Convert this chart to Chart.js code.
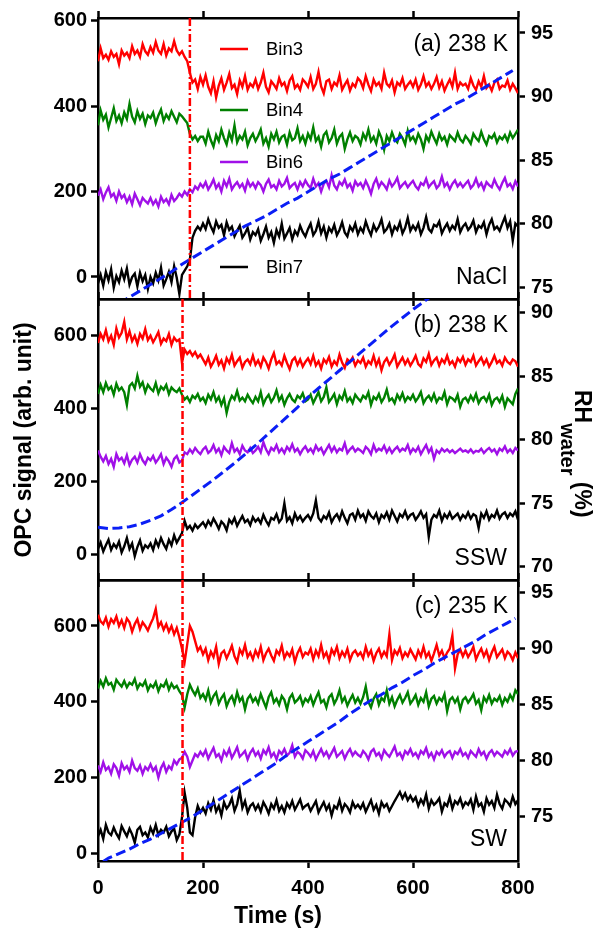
<!DOCTYPE html>
<html>
<head>
<meta charset="utf-8">
<script src="https://cdn.jsdelivr.net/npm/chart.js@4.4.1/dist/chart.umd.min.js"></script>
<style>
  html, body { margin: 0; padding: 0; background: #fff; }
  #wrap { position: relative; width: 594px; height: 928px; }
  #wrap canvas { position: absolute; left: 0; top: 0; }
</style>
</head>
<body>
<div id="wrap">
  <canvas id="panelA" width="594" height="928"></canvas>
  <canvas id="panelB" width="594" height="928"></canvas>
  <canvas id="panelC" width="594" height="928"></canvas>
</div>
<script>
// OPC traces are sampled every 5 s, 0 - 800 s
const TIME = Array.from({ length: 161 }, (_, i) => i * 5);
const BINS = ['Bin3', 'Bin4', 'Bin6', 'Bin7'];

// tick labels
const TIME_TICKS = [0, 200, 400, 600, 800];
const OPC_TICKS = [0, 200, 400, 600];
const RH_TICKS_A = [75, 80, 85, 90, 95];
const RH_TICKS_B = [70, 75, 80, 85, 90];
const RH_TICKS_C = [75, 80, 85, 90, 95];

// (a) NaCl, 238 K
const BIN3_A = [
  505, 535, 512, 520, 508, 528, 515, 522, 498, 530, 518, 525, 512, 540, 522, 530, 515, 545, 528, 520,
  538, 525, 550, 530, 522, 545, 518, 535, 528, 552, 530, 520, 528, 515, 505, 478, 455, 462, 440, 468,
  450, 472, 445, 430, 458, 420, 448, 465, 438, 455, 475, 442, 450, 428, 460, 445, 470, 438, 452, 445,
  462, 440, 455, 478, 445, 432, 458, 450, 440, 465, 448, 455, 435, 460, 470, 442, 450, 438, 462, 455,
  445, 468, 440, 452, 480, 446, 430, 458, 462, 440, 455, 448, 472, 438, 450, 460, 436, 452, 445, 465,
  458, 442, 470, 450, 435, 462, 448, 455, 440, 478, 452, 445, 460, 432, 455, 448, 465, 440, 450, 458,
  445, 462, 438, 450, 470, 446, 455, 440, 452, 468, 443, 458, 436, 450, 462, 445, 478, 440, 455, 448,
  452, 440, 465, 448, 438, 458, 445, 470, 442, 450, 436, 455, 462, 440, 448, 445, 460, 438, 452, 442,
  430
];
const BIN4_A = [
  355, 390, 368, 380, 350, 372, 395, 365, 378, 360, 385, 370, 405, 375, 362, 388, 370, 382, 358, 378,
  372, 385, 360, 378, 392, 365, 380, 370, 388, 375, 362, 382, 376, 368, 360, 335, 322, 330, 318, 328,
  328, 312, 340, 320, 305, 332, 318, 345, 325, 310, 338, 320, 355, 315, 330, 322, 340, 308, 325, 335,
  318, 330, 345, 312, 325, 305, 335, 322, 340, 315, 328, 332, 310, 338, 320, 325, 348, 318, 330, 312,
  335, 322, 350, 318, 328, 305, 332, 340, 315, 325, 345, 312, 328, 335, 300, 322, 338, 318, 330, 325,
  310, 335, 322, 345, 318, 328, 312, 340, 325, 298, 330, 318, 338, 322, 315, 335, 325, 310, 342, 320,
  328, 315, 335, 322, 300, 330, 318, 340, 325, 312, 335, 320, 328, 310, 332, 325, 318, 338, 322, 315,
  330, 322, 312, 335, 325, 318, 340, 322, 310, 330, 325, 335, 315, 328, 322, 332, 318, 338, 325, 335,
  345
];
const BIN6_A = [
  190, 205, 182, 198, 210, 188, 195, 178, 200, 185, 192, 175, 188, 170, 195, 182, 168, 185, 178, 172,
  185, 170, 180, 165, 188, 175, 182, 170, 192, 178, 185, 195, 188, 200, 192, 205, 198, 212, 205, 218,
  210, 222, 205, 215, 228, 208, 218, 200, 225, 212, 230, 205, 215, 222, 210, 218, 202, 225, 212, 220,
  208, 222, 215, 200, 218, 228, 210, 215, 205, 225, 212, 218, 232, 208, 215, 220, 205, 222, 212, 226,
  215, 208, 230, 212, 220, 200, 218, 225, 210, 238, 214, 205, 222, 215, 228, 210, 218, 202, 224, 214,
  220, 208, 225, 212, 195, 218, 230, 210, 222, 215, 205, 226, 212, 220, 232, 208, 216, 222, 210, 218,
  225, 212, 205, 220, 215, 230, 210, 218, 224, 208, 215, 235, 212, 220, 205, 218, 226, 212, 220, 210,
  218, 225, 208, 215, 230, 212, 220, 205, 222, 215, 210, 228, 214, 205, 220, 232, 212, 218, 206, 224,
  212
];
const BIN7_A = [
  -15, 5, -20, 12, -8, 18, -25, 2, -12, 15, -5, 20, -18, 0, 8, -22, 10, -10, 5, -28,
  0, -15, 10, -8, 22, -20, -5, 12, -12, 25, -2, -40, 5, 15, 25, 40, 92, 108, 118, 110,
  125, 112, 135, 118, 105, 130, 115, 122, 98, 128, 110, 118, 95, 108, 120, 92, 102, 115, 88, 105,
  98, 112, 85, 100, 118, 92, 105, 80, 110, 95, 125, 90, 102, 115, 88, 108, 98, 120, 105, 95,
  112, 125, 98, 108, 130, 102, 118, 92, 115, 105, 122, 98, 110, 128, 104, 95, 118, 108, 125, 100,
  115, 105, 130, 112, 98, 122, 108, 118, 135, 105, 112, 125, 100, 118, 110, 128, 102, 115, 138, 108,
  120, 110, 125, 100, 115, 140, 112, 105, 122, 118, 130, 102, 115, 125, 108, 120, 112, 135, 105, 118,
  125, 110, 118, 132, 105, 120, 115, 128, 100, 122, 135, 112, 118, 108, 125, 140, 115, 130, 85, 125,
  118
];
const RH_T_A = [40, 60, 80, 100, 120, 140, 160, 180, 200, 220, 240, 260, 280, 300, 320, 340, 360, 380, 400, 420,
  440, 460, 480, 500, 520, 540, 560, 580, 600, 620, 640, 660, 680, 700, 720, 740, 760, 780, 790];
const RH_A = [73.7, 74.2, 74.7, 75.2, 75.7, 76.2, 76.8, 77.3, 77.8, 78.3, 78.8, 79.3, 79.8, 80.2, 80.6, 81.1, 81.6, 82.0, 82.5, 83.0,
  83.5, 83.9, 84.4, 84.9, 85.4, 85.9, 86.4, 86.9, 87.4, 87.9, 88.4, 88.9, 89.4, 89.8, 90.3, 90.8, 91.3, 91.8, 92.05];

// (b) SSW, 238 K
const BIN3_B = [
  580, 605, 590, 615, 585, 600, 575, 620, 595, 608, 638, 590, 612, 585, 600, 578, 605, 592, 618, 588,
  600, 582, 595, 610, 578, 592, 585, 605, 575, 595, 585, 590, 525, 562, 550, 558, 545, 555, 540, 548,
  535, 522, 540, 515, 528, 545, 520, 532, 510, 538, 525, 548, 518, 530, 540, 512, 528, 535, 522, 545,
  520, 532, 515, 540, 528, 510, 535, 552, 522, 530, 518, 545, 525, 508, 532, 540, 520, 535, 515, 528,
  538, 522, 545, 518, 530, 510, 535, 525, 542, 515, 530, 520, 548, 526, 512, 535, 528, 540, 518, 532,
  525, 540, 515, 530, 522, 545, 518, 535, 505, 528, 538, 520, 532, 548, 515, 528, 540, 522, 535, 518,
  530, 545, 522, 515, 538, 528, 550, 520, 532, 540, 518, 535, 525, 545, 522, 530, 515, 538, 528, 542,
  520, 535, 528, 545, 518, 530, 540, 522, 535, 515, 528, 545, 525, 532, 518, 540, 528, 522, 535, 530,
  515
];
const BIN4_B = [
  440, 465, 445, 470, 452, 460, 438, 468, 450, 458, 445, 410, 462, 470, 455, 490, 460, 472, 445, 465,
  455, 448, 470, 442, 460, 452, 465, 440, 458, 450, 445, 455, 438, 425, 432, 418, 435, 428, 440, 422,
  430, 415, 438, 425, 445, 420, 432, 410, 428, 388, 418, 435, 425, 448, 422, 430, 420, 438, 425, 415,
  432, 420, 445, 412, 428, 438, 418, 430, 450, 422, 435, 410, 428, 440, 425, 418, 435, 428, 442, 420,
  425, 438, 415, 430, 445, 420, 432, 458, 418, 428, 440, 412, 435, 425, 448, 420, 430, 415, 438, 428,
  420, 435, 428, 445, 410, 432, 425, 440, 418, 430, 452, 422, 428, 415, 438, 425, 442, 420, 432, 425,
  438, 420, 430, 445, 415, 428, 435, 422, 440, 418, 430, 425, 445, 412, 432, 428, 420, 438, 405, 425,
  430, 418, 435, 422, 440, 415, 428, 432, 420, 438, 410, 425, 430, 418, 435, 405, 428, 420, 412, 440,
  455
];
const BIN6_B = [
  285, 268, 255, 270, 248, 262, 240, 275, 258, 265, 250, 272, 245, 260, 268, 252, 275, 258, 248, 265,
  258, 270, 252, 262, 275, 248, 265, 255, 240, 262, 270, 252, 258, 280, 275, 288, 278, 292, 282, 275,
  288, 295, 278, 285, 300, 280, 290, 272, 295, 285, 278, 305, 282, 290, 275, 298, 285, 280, 292, 278,
  285, 295, 280, 308, 288, 275, 292, 285, 300, 280, 290, 278, 295, 285, 302, 282, 290, 275, 288, 296,
  282, 290, 278, 298, 285, 292, 275, 288, 300, 282, 295, 280, 290, 285, 305, 278, 288, 295, 282, 290,
  285, 278, 295, 288, 275, 300, 282, 290, 285, 298, 280, 292, 278, 288, 295, 282, 290, 285, 300, 278,
  290, 282, 295, 275, 288, 300, 280, 292, 262, 285, 278, 290, 282, 288, 280, 286, 278, 284, 290, 282,
  285, 280, 288, 278, 284, 282, 290, 278, 286, 292, 282, 288, 275, 290, 284, 296, 280, 288, 278, 292,
  285
];
const BIN7_B = [
  15, 32, 8, 25, 40, 12, 28, 18, 35, 5, 22, 45, 15, 30, -5, 20, 38, 10, 25, 18,
  30, 12, 38, 22, 45, 28, 15, 40, 25, 52, 32, 45, 58, 92, 70, 78, 65, 82, 72, 80,
  88, 75, 92, 80, 98, 85, 70, 90, 82, 66, 95, 85, 100, 78, 92, 105, 88, 95, 80, 102,
  90, 98, 85, 108, 92, 80, 100, 95, 110, 88, 98, 140, 92, 102, 85, 112, 95, 105, 90, 100,
  108, 95, 112, 148, 100, 90, 105, 98, 115, 88, 102, 110, 95, 118, 100, 85, 108, 112, 95, 120,
  102, 110, 92, 118, 105, 98, 112, 88, 108, 100, 115, 95, 120, 105, 90, 110, 102, 118, 98, 108,
  112, 95, 105, 118, 100, 110, 48, 95, 108, 102, 120, 92, 110, 100, 115, 98, 105, 112, 95, 108,
  100, 115, 98, 110, 105, 72, 112, 100, 118, 95, 108, 102, 120, 98, 110, 115, 100, 112, 105, 118,
  95
];
const RH_T_B = [0, 20, 40, 60, 80, 100, 120, 140, 160, 180, 200, 220, 240, 260, 280, 300, 320,
  340, 360, 380, 400, 420, 440, 460, 480, 500, 520, 540, 560, 580, 600, 620, 640];
const RH_B = [73.1, 73.0, 73.05, 73.15, 73.35, 73.65, 74.0, 74.5, 75.05, 75.65, 76.25, 76.85, 77.5, 78.15, 78.85, 79.55, 80.3,
  81.05, 81.8, 82.55, 83.35, 84.05, 84.75, 85.45, 86.15, 86.85, 87.55, 88.25, 88.95, 89.6, 90.25, 90.85, 91.45];

// (c) SW, 235 K
const BIN3_C = [
  630, 612, 605, 622, 598, 618, 608, 625, 600, 615, 595, 620, 610, 585, 605, 618, 592, 610, 600, 588,
  605, 620, 645, 598, 610, 590, 605, 585, 600, 578, 595, 570, 540, 505, 552, 600, 585, 560, 535, 545,
  525, 540, 510, 532, 518, 545, 500, 528, 535, 515, 530, 548, 520, 505, 538, 525, 550, 518, 530, 512,
  535, 520, 545, 510, 528, 540, 522, 508, 535, 525, 548, 515, 530, 520, 538, 505, 528, 542, 518, 530,
  525, 540, 512, 535, 520, 550, 518, 530, 508, 538, 525, 545, 515, 532, 520, 540, 510, 528, 535, 522,
  530, 515, 545, 522, 535, 508, 528, 540, 518, 532, 520, 578, 510, 535, 525, 542, 515, 530, 520, 538,
  525, 512, 535, 520, 545, 518, 530, 508, 528, 550, 522, 535, 515, 530, 540, 575, 488, 525, 538, 520,
  535, 518, 530, 545, 512, 528, 540, 520, 535, 510, 530, 545, 518, 528, 538, 515, 532, 525, 510, 530,
  515
];
const BIN4_C = [
  435, 455, 440, 462, 445, 450, 432, 458, 448, 440, 455, 438, 450, 445, 460, 435, 448, 442, 455, 430,
  445, 438, 452, 428, 445, 440, 455, 432, 448, 436, 442, 428, 418, 385, 420, 445, 430, 418, 435, 410,
  420, 405, 430, 398, 415, 425, 395, 410, 420, 388, 405, 415, 395, 425, 402, 412, 380, 408, 418, 400,
  410, 395, 420, 402, 385, 412, 425, 398, 408, 392, 415, 405, 380, 410, 420, 398, 405, 415, 392, 408,
  400, 415, 392, 410, 425, 398, 405, 385, 412, 420, 395, 408, 430, 400, 412, 390, 405, 418, 398, 410,
  395, 412, 440, 400, 385, 408, 420, 392, 410, 402, 430, 395, 412, 388, 405, 418, 398, 410, 425, 395,
  405, 418, 392, 410, 400, 425, 388, 408, 415, 395, 410, 402, 420, 375, 405, 412, 398, 410, 380, 405,
  412, 398, 408, 420, 395, 405, 378, 412, 400, 418, 395, 408, 402, 415, 392, 410, 400, 418, 405, 430,
  420
];
const BIN6_C = [
  232, 215, 240, 220, 228, 210, 235, 225, 205, 238, 222, 230, 215, 245, 225, 218, 232, 210, 228, 220,
  235, 218, 228, 200, 225, 238, 215, 230, 222, 245, 235, 248, 252, 268, 255, 228, 245, 262, 255, 268,
  258, 272, 250, 265, 278, 255, 262, 245, 270, 258, 275, 252, 265, 280, 255, 262, 270, 248, 265, 275,
  258, 268, 250, 272, 262, 280, 255, 265, 248, 270, 262, 275, 258, 265, 285, 255, 268, 262, 250, 272,
  265, 255, 270, 248, 262, 275, 258, 268, 252, 265, 278, 255, 262, 270, 250, 265, 275, 258, 268, 260,
  255, 270, 262, 248, 268, 275, 258, 265, 250, 272, 262, 255, 268, 282, 258, 265, 250, 270, 262, 275,
  258, 265, 252, 270, 262, 278, 255, 265, 248, 268, 260, 272, 255, 265, 270, 252, 268, 262, 275, 258,
  265, 252, 270, 262, 255, 275, 260, 268, 250, 265, 272, 258, 268, 262, 255, 270, 262, 275, 258, 268,
  270
];
const BIN7_C = [
  45, 62, 38, 75, 55, 48, 68, 52, 40, 72, 58, 45, 65, 50, 28, 62, 70, 48, 55, 42,
  68, 52, 75, 48, 62, 55, 70, 45, 58, 65, 35, 50, 95, 160, 120, 55, 48, 95, 125, 108,
  120, 105, 132, 115, 140, 110, 125, 100, 135, 118, 128, 145, 112, 130, 165, 120, 138, 108, 125, 132,
  115, 128, 110, 135, 122, 105, 130, 118, 140, 112, 125, 108, 132, 120, 138, 115, 128, 142, 118, 125,
  130, 112, 125, 138, 108, 122, 135, 115, 128, 100, 125, 118, 140, 112, 130, 122, 108, 135, 120, 128,
  118, 132, 110, 125, 140, 115, 128, 105, 135, 122, 130, 112, 125, 138, 150, 162, 145, 158, 140, 152,
  138, 148, 125, 142, 130, 155, 118, 140, 128, 135, 145, 110, 132, 125, 148, 118, 138, 130, 145, 122,
  135, 128, 142, 115, 150, 125, 132, 110, 145, 128, 138, 120, 155, 130, 118, 142, 135, 125, 150, 130,
  140
];
const RH_T_C = [10, 20, 40, 60, 80, 100, 120, 140, 160, 180, 200, 220, 240, 260, 280, 300, 320, 340, 360, 380,
  400, 420, 440, 460, 480, 500, 520, 540, 560, 580, 600, 620, 640, 660, 680, 700, 720, 740, 760, 780, 795];
const RH_C = [71.0, 71.3, 71.7, 72.1, 72.6, 73.0, 73.5, 74.0, 74.5, 75.0, 75.6, 76.2, 76.8, 77.4, 78.0, 78.6, 79.2, 79.8, 80.5, 81.1,
  81.7, 82.3, 82.9, 83.5, 84.2, 84.8, 85.4, 85.9, 86.5, 87.0, 87.6, 88.1, 88.7, 89.2, 89.7, 90.2, 90.7, 91.3, 91.8, 92.3, 92.7];

// onset of the change in each run (s)
const ONSET = [175, 161, 161];

const FONT = "'Liberation Sans', Arial, sans-serif";
const BIN_COLORS = ['#ff0000', '#008000', '#a010e8', '#000000'];
const RH_COLOR = '#0a1ef5';

Chart.defaults.font.family = FONT;
Chart.defaults.color = '#000';

const pts = (xs, ys) => ys.map((y, i) => ({ x: xs[i], y: y }));
const fixedTicks = vals => s => { s.ticks = vals.map(v => ({ value: v })); };

const panelText = {
  id: 'panelText',
  afterDraw(chart, args, opts) {
    const { ctx, chartArea: a, scales } = chart;
    ctx.save();

    // onset marker
    const xo = scales.x.getPixelForValue(opts.onset);
    ctx.strokeStyle = '#ff0000';
    ctx.lineWidth = 2.5;
    ctx.setLineDash([8, 3, 2, 3]);
    ctx.beginPath();
    ctx.moveTo(xo, a.top);
    ctx.lineTo(xo, a.bottom);
    ctx.stroke();
    ctx.setLineDash([]);

    ctx.fillStyle = '#000';
    ctx.font = '23px ' + FONT;
    ctx.textAlign = 'right';
    ctx.textBaseline = 'alphabetic';
    ctx.fillText(opts.title, 508, a.top + 32.5);
    ctx.fillText(opts.sample, 507, a.bottom - 15.5);

    if (opts.legend) {
      const ys = [49, 110, 162, 267];
      ctx.font = '18.5px ' + FONT;
      ctx.textAlign = 'left';
      ctx.textBaseline = 'middle';
      chart.data.datasets.filter(d => d.yAxisID === 'y').forEach((d, i) => {
        ctx.strokeStyle = d.borderColor;
        ctx.lineWidth = 2.5;
        ctx.beginPath();
        ctx.moveTo(220, ys[i]);
        ctx.lineTo(248, ys[i]);
        ctx.stroke();
        ctx.fillText(d.label, 266, ys[i] + 1);
      });
    }

    if (opts.axisTitles) {
      ctx.font = 'bold 23px ' + FONT;
      ctx.textAlign = 'center';
      ctx.textBaseline = 'alphabetic';
      ctx.fillText('Time (s)', 278, 923);

      ctx.save();
      ctx.translate(25, 440);
      ctx.rotate(-Math.PI / 2);
      ctx.textBaseline = 'middle';
      ctx.fillText('OPC signal (arb. unit)', 0, 0);
      ctx.restore();

      ctx.save();
      ctx.translate(575, 390);
      ctx.rotate(Math.PI / 2);
      ctx.textAlign = 'left';
      ctx.textBaseline = 'alphabetic';
      ctx.fillText('RH', 0, 0);
      let w = ctx.measureText('RH').width;
      ctx.font = 'bold 20px ' + FONT;
      ctx.fillText('water', w, 14);
      w += ctx.measureText('water').width;
      ctx.font = 'bold 23px ' + FONT;
      ctx.fillText(' (%)', w, 0);
      ctx.restore();
    }
    ctx.restore();
  }
};

const frame = {
  grid: { drawOnChartArea: false, drawTicks: true, tickLength: 7, tickWidth: 2.5, tickColor: '#000' },
  border: { display: true, color: '#000', width: 2.5 },
};
const tickFont = { size: 20, weight: 'bold' };

function makePanel(id, p) {
  // RH first so the dashed trace is drawn over the OPC bins
  const datasets = [{
    label: 'RH', data: pts(p.rhT, p.rh), borderColor: RH_COLOR, borderWidth: 3,
    borderDash: [10, 4.5], pointRadius: 0, xAxisID: 'x', yAxisID: 'y2',
  }];
  p.bins.forEach((vals, i) => {
    datasets.push({
      label: BINS[i], data: pts(TIME, vals), borderColor: BIN_COLORS[i], borderWidth: 2.4,
      pointRadius: 0, xAxisID: 'x', yAxisID: 'y',
    });
  });

  return new Chart(document.getElementById(id), {
    type: 'line',
    data: { datasets },
    options: {
      responsive: false,
      animation: false,
      devicePixelRatio: 1,
      events: [],
      layout: { padding: 0 },
      plugins: {
        legend: { display: false },
        tooltip: { enabled: false },
        panelText: {
          onset: p.onset, title: p.title, sample: p.sample,
          legend: !!p.legend, axisTitles: !!p.axisTitles,
        },
      },
      scales: {
        x: {
          type: 'linear', position: 'bottom', min: 0, max: 800,
          ticks: { display: !!p.showX, font: tickFont, padding: 8, maxRotation: 0, autoSkip: false },
          afterBuildTicks: fixedTicks(TIME_TICKS),
          afterFit: s => { s.height = 928 - p.bottom; },
          ...frame,
        },
        xTop: {
          type: 'linear', position: 'top', min: 0, max: 800,
          ticks: { display: false },
          afterBuildTicks: fixedTicks(TIME_TICKS),
          afterFit: s => { s.height = p.top; },
          ...frame,
        },
        y: {
          type: 'linear', position: 'left', min: p.yMin, max: p.yMax,
          ticks: { font: tickFont, padding: 4, autoSkip: false },
          afterBuildTicks: fixedTicks(OPC_TICKS),
          afterFit: s => { s.width = 98; },
          ...frame,
        },
        y2: {
          type: 'linear', position: 'right', min: p.rMin, max: p.rMax,
          ticks: { font: tickFont, padding: 6, autoSkip: false },
          afterBuildTicks: fixedTicks(p.rhTicks),
          afterFit: s => { s.width = 76; },
          ...frame,
        },
      },
    },
    plugins: [panelText],
  });
}

makePanel('panelA', {
  bins: [BIN3_A, BIN4_A, BIN6_A, BIN7_A], rhT: RH_T_A, rh: RH_A, rhTicks: RH_TICKS_A,
  yMin: -51.5, yMax: 606, rMin: 74.06, rMax: 96.18, top: 18, bottom: 299,
  onset: ONSET[0], title: '(a) 238 K', sample: 'NaCl', legend: true,
});
makePanel('panelB', {
  bins: [BIN3_B, BIN4_B, BIN6_B, BIN7_B], rhT: RH_T_B, rh: RH_B, rhTicks: RH_TICKS_B,
  yMin: -70.5, yMax: 700.7, rMin: 68.95, rMax: 91.08, top: 299, bottom: 580,
  onset: ONSET[1], title: '(b) 238 K', sample: 'SSW',
});
makePanel('panelC', {
  bins: [BIN3_C, BIN4_C, BIN6_C, BIN7_C], rhT: RH_T_C, rh: RH_C, rhTicks: RH_TICKS_C,
  yMin: -20.3, yMax: 721.4, rMin: 71.04, rMax: 96.13, top: 580, bottom: 861,
  onset: ONSET[2], title: '(c) 235 K', sample: 'SW', showX: true, axisTitles: true,
});
</script>
</body>
</html>
